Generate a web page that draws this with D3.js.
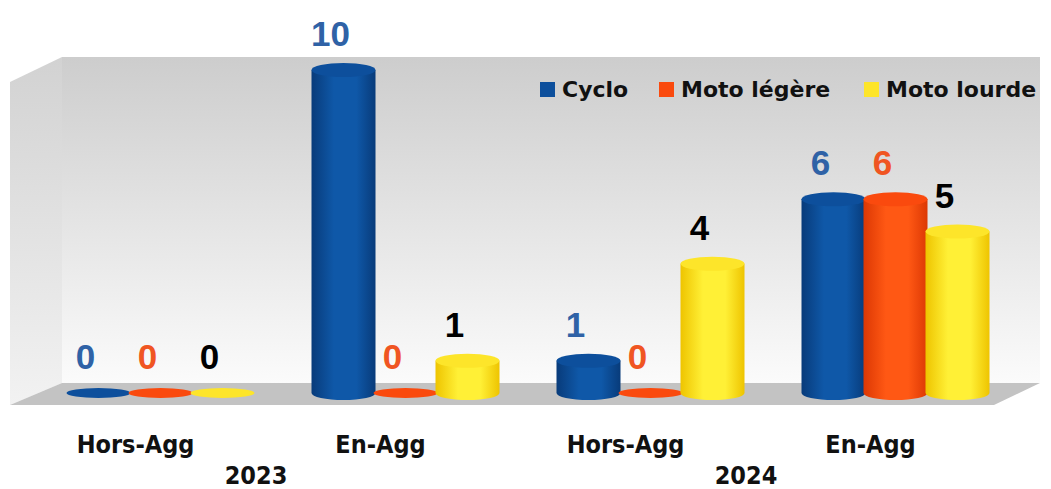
<!DOCTYPE html>
<html>
<head>
<meta charset="utf-8">
<script src="https://cdn.jsdelivr.net/npm/d3@7"></script>
<style>
  body { margin: 0; background: #fff; }
  svg { display: block; }
</style>
</head>
<body>
<script>
// data
var categories = ["Hors-Agg", "En-Agg", "Hors-Agg", "En-Agg"];
var years = ["2023", "2024"];
var seriesNames = ["Cyclo", "Moto légère", "Moto lourde"];
var cyclo = [0, 10, 1, 6];
var motoLegere = [0, 0, 0, 6];
var motoLourde = [0, 1, 4, 5];

var seriesValues = [cyclo, motoLegere, motoLourde];
var colors = {
    "Cyclo": { dark: "#083b7a", mid: "#0f58a8", top: "#0d4f9c", label: "#2f62a6" },
    "Moto légère": { dark: "#dc3804", mid: "#ff5814", top: "#fa4a0e", label: "#f05522" },
    "Moto lourde": { dark: "#eec400", mid: "#fff036", top: "#fde52a", label: "#000000" }
};

var width = 1051, height = 489;

var svg = d3.select("body")
    .append("svg")
    .attr("width", width)
    .attr("height", height);

var defs = svg.append("defs");

// back wall gradient
var wallGrad = defs.append("linearGradient")
    .attr("id", "wallGrad")
    .attr("x1", 0).attr("y1", 0).attr("x2", 0).attr("y2", 1);
wallGrad.append("stop").attr("offset", 0).attr("stop-color", "#cdcdcd");
wallGrad.append("stop").attr("offset", 1).attr("stop-color", "#fbfbfb");

var sideGrad = defs.append("linearGradient")
    .attr("id", "sideGrad")
    .attr("x1", 0).attr("y1", 0).attr("x2", 0).attr("y2", 1);
sideGrad.append("stop").attr("offset", 0).attr("stop-color", "#d2d2d2");
sideGrad.append("stop").attr("offset", 1).attr("stop-color", "#f2f2f2");

// cylinder gradients
seriesNames.forEach(function(s, i){
    var g = defs.append("linearGradient")
        .attr("id", "cyl" + i)
        .attr("x1", 0).attr("y1", 0).attr("x2", 1).attr("y2", 0);
    g.append("stop").attr("offset", 0).attr("stop-color", colors[s].dark);
    g.append("stop").attr("offset", 0.35).attr("stop-color", colors[s].mid);
    g.append("stop").attr("offset", 0.7).attr("stop-color", colors[s].mid);
    g.append("stop").attr("offset", 1).attr("stop-color", colors[s].dark);
});

// scales
var x0 = d3.scaleBand()
    .domain(d3.range(categories.length))
    .range([38, 1018]);

var x1 = d3.scaleBand()
    .domain(seriesNames)
    .range([29.5, 215.5]);

var y = d3.scaleLinear()
    .domain([0, 10])
    .range([393, 70]);

// 3D box: back wall, left wall, floor
svg.append("polygon")
    .attr("points", "62,57 1040,57 1040,383 62,383")
    .attr("fill", "url(#wallGrad)");

svg.append("polygon")
    .attr("points", "10,82 62,57 62,383 10,405")
    .attr("fill", "url(#sideGrad)");

svg.append("polygon")
    .attr("points", "10,405 62,383 1040,383 994,405")
    .attr("fill", "#c3c3c3");

// bars as cylinders
var barW = 64, ry = 7;

var rows = [];
categories.forEach(function(c, gi){
    seriesNames.forEach(function(s, si){
        rows.push({ group: gi, series: s, si: si, value: seriesValues[si][gi] });
    });
});

var bars = svg.selectAll(".bar")
    .data(rows)
    .enter()
    .append("g")
    .attr("class", "bar")
    .attr("transform", function(d){
        return "translate(" + (x0(d.group) + x1(d.series) + x1.bandwidth() / 2) + ",0)";
    });

bars.append("path")
    .attr("d", function(d){
        var top = y(d.value), base = y(0), r = barW / 2;
        if (d.value === 0) {
            // flat disc for zero values
            return "M" + (-r) + "," + base + " A" + r + "," + (ry - 2) + " 0 1 0 " + r + "," + base +
                " A" + r + "," + (ry - 2) + " 0 1 0 " + (-r) + "," + base + "Z";
        }
        return "M" + (-r) + "," + top + " L" + (-r) + "," + base +
            " A" + r + "," + ry + " 0 0 0 " + r + "," + base +
            " L" + r + "," + top + "Z";
    })
    .attr("fill", function(d){ return d.value === 0 ? colors[d.series].top : "url(#cyl" + d.si + ")"; });

bars.filter(function(d){ return d.value > 0; })
    .append("ellipse")
    .attr("cx", 0)
    .attr("cy", function(d){ return y(d.value); })
    .attr("rx", barW / 2)
    .attr("ry", ry)
    .attr("fill", function(d){ return colors[d.series].top; });

// value labels
bars.append("text")
    .attr("x", -13)
    .attr("y", function(d){ return y(d.value) - 24; })
    .attr("text-anchor", "middle")
    .style("font-family", "'Liberation Sans', Arial, sans-serif")
    .style("font-weight", "bold")
    .style("font-size", "35px")
    .attr("fill", function(d){ return colors[d.series].label; })
    .text(function(d){ return d.value; });

// category labels
svg.selectAll(".cat")
    .data(categories)
    .enter()
    .append("text")
    .attr("class", "cat")
    .attr("x", function(d, i){ return x0(i) + x0.bandwidth() / 2 - 25; })
    .attr("y", 453)
    .attr("text-anchor", "middle")
    .style("font-family", "'DejaVu Sans Condensed', 'DejaVu Sans', sans-serif")
    .style("font-stretch", "condensed")
    .style("font-weight", "bold")
    .style("font-size", "25px")
    .attr("fill", "#111")
    .text(function(d){ return d; });

// year labels, centred between each pair of groups
svg.selectAll(".year")
    .data(years)
    .enter()
    .append("text")
    .attr("class", "year")
    .attr("x", function(d, i){
        return (x0(i * 2) + x0(i * 2 + 1)) / 2 + x0.bandwidth() / 2 - 27;
    })
    .attr("y", 484)
    .attr("text-anchor", "middle")
    .style("font-family", "'DejaVu Sans Condensed', 'DejaVu Sans', sans-serif")
    .style("font-stretch", "condensed")
    .style("font-weight", "bold")
    .style("font-size", "25px")
    .attr("fill", "#111")
    .text(function(d){ return d; });

// legend
var legendX = [540, 659, 864];
var legend = svg.selectAll(".legend")
    .data(seriesNames)
    .enter()
    .append("g")
    .attr("class", "legend")
    .attr("transform", function(d, i){ return "translate(" + legendX[i] + ",82)"; });

legend.append("rect")
    .attr("width", 15)
    .attr("height", 15)
    .attr("fill", function(d){ return colors[d].top; });

legend.append("text")
    .attr("x", 22)
    .attr("y", 15)
    .style("font-family", "'DejaVu Sans', sans-serif")
    .style("font-weight", "bold")
    .style("font-size", "22px")
    .attr("fill", "#111")
    .text(function(d){ return d; });
</script>
</body>
</html>
